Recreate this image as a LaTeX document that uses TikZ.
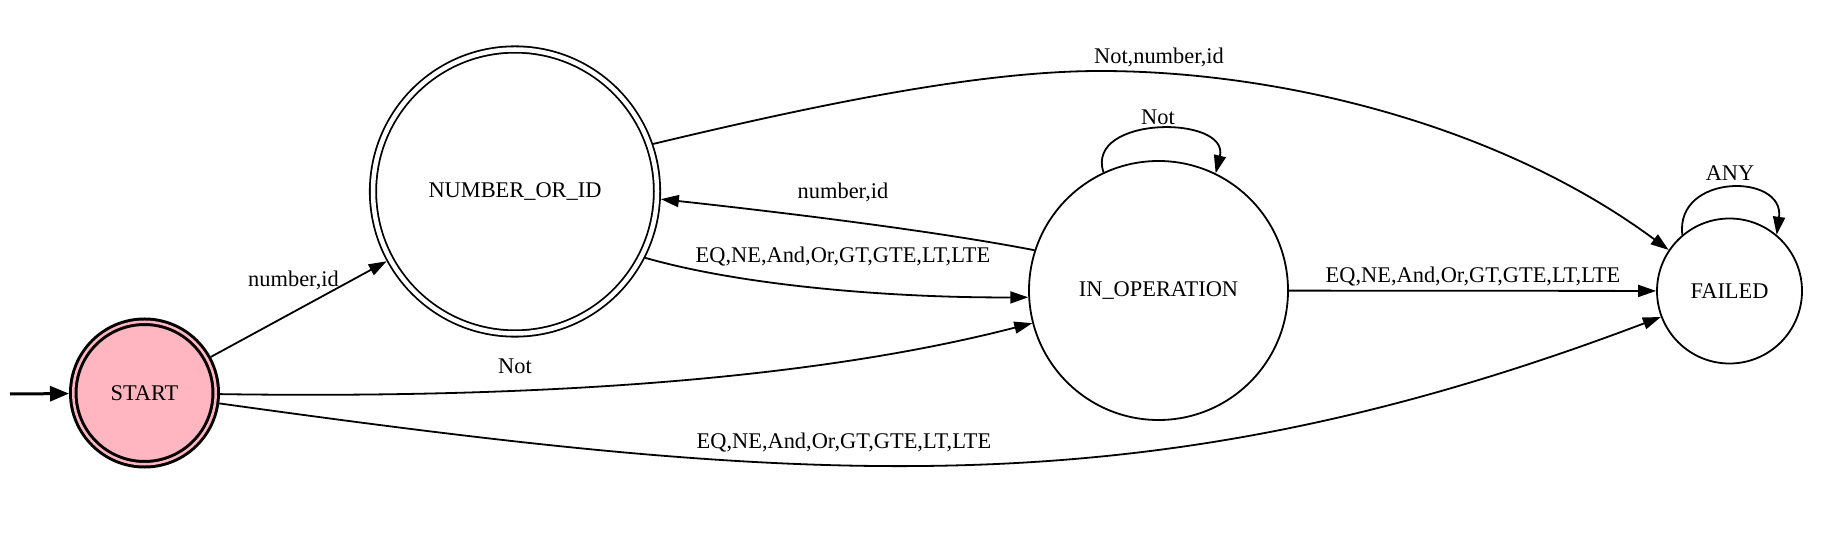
\documentclass[tikz,border=0pt]{standalone}
\usepackage{fontspec}
\setmainfont{Liberation Serif}
\usetikzlibrary{arrows.meta}
\definecolor{startpink}{RGB}{255,182,193}
\begin{document}
\begin{tikzpicture}[x=1pt,y=-1pt,
  every node/.style={font=\fontsize{22.4}{26}\selectfont},
  state/.style={circle, draw, line width=1.8pt, inner sep=0pt, outer sep=0.9pt},
  dstate/.style={state, double, double distance=4.5pt, outer sep=4.05pt},
  startstate/.style={circle, draw, line width=3pt, double=startpink, double distance=2.5pt, fill=startpink, inner sep=0pt, outer sep=4.25pt},
  trans/.style={line width=1.8pt, -{Triangle[length=18pt,width=12pt]}},
  inittrans/.style={line width=3pt, -{Triangle[length=19pt,width=15pt]}},
  lbl/.style={inner sep=0pt}]
\useasboundingbox (0,0) rectangle (1836,537);
% states
\node[startstate, minimum size=142.5pt] (start) at (144.5,393) {START};
\node[dstate, minimum size=284pt] (numid) at (515,191.5) {NUMBER\_OR\_ID};
\node[state, minimum size=259pt] (inop) at (1158.5,290.5) {IN\_OPERATION};
\node[state, minimum size=145pt] (failed) at (1729.5,291) {FAILED};
% initial arrow
\coordinate (init) at (10,394);
\draw[inittrans] (init) -- (start);
% transitions
\draw[trans] (start) -- (numid);
\draw[trans] (start) .. controls (550,399) and (820,378) .. (inop);
\draw[trans] (start) .. controls (813,486) and (1146,512) .. (failed);
\draw[trans] (numid.-27) .. controls (747,287) and (900,298) .. (inop.183);
\draw[trans] (inop.162) .. controls (930,230) and (770,211) .. (numid.-3.6);
\coordinate (ntop) at (1100,71);
\draw[trans] (numid.19.5) .. controls (820,104) and (980,71) .. (ntop)
  .. controls (1280,71) and (1500,125) .. (failed.146.5);
\draw[trans] (inop.115) .. controls (1085,115) and (1230,115) .. (inop.64);
\draw[trans] (failed.130) .. controls (1675,173) and (1785,173) .. (failed.50);
\draw[trans] (inop) -- (failed);
% labels
\node[lbl] (l1) at (293.5,280) {number,id};
\node[lbl] (l2) at (515,366) {Not};
\node[lbl] (l3) at (844,443) {EQ,NE,And,Or,GT,GTE,LT,LTE};
\node[lbl] (l4) at (843,257) {EQ,NE,And,Or,GT,GTE,LT,LTE};
\node[lbl] (l5) at (843,192) {number,id};
\node[lbl] (l6) at (1159,57) {Not,number,id};
\node[lbl] (l7) at (1158,117) {Not};
\node[lbl] (l8) at (1730,173) {ANY};
\node[lbl] (l9) at (1473,277) {EQ,NE,And,Or,GT,GTE,LT,LTE};
\end{tikzpicture}
\end{document}
